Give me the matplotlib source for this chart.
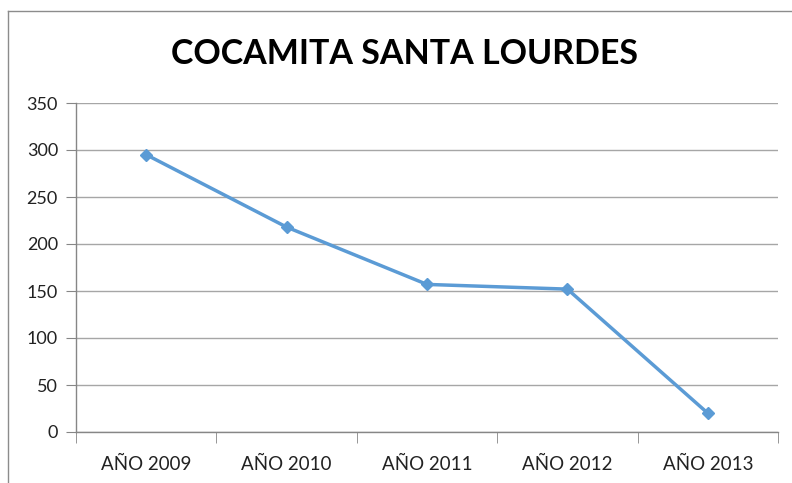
import matplotlib
matplotlib.use("Agg")
import matplotlib.pyplot as plt
from matplotlib.lines import Line2D

plt.rcParams['font.family'] = ['Lato', 'DejaVu Sans']

categories = ["AÑO 2009", "AÑO 2010", "AÑO 2011", "AÑO 2012", "AÑO 2013"]
values = [295, 218, 157, 152, 20]
y_ticks = [0, 50, 100, 150, 200, 250, 300, 350]
title = "COCAMITA SANTA LOURDES"

W, H = 792, 483
fig = plt.figure(figsize=(W / 100, H / 100), dpi=100)
fig.patch.set_facecolor("white")

# chart frame (left and top edges)
frame_color = "#8c8c8c"
fig.add_artist(Line2D([8 / W, 8 / W], [0, 1 - 11 / H], transform=fig.transFigure,
                      color=frame_color, lw=1.0))
fig.add_artist(Line2D([8 / W, 1], [1 - 11 / H, 1 - 11 / H], transform=fig.transFigure,
                      color=frame_color, lw=1.0))

left, right = 76 / W, 778 / W
bottom, top = 1 - 432 / H, 1 - 103 / H
ax = fig.add_axes([left, bottom, right - left, top - bottom])

x = list(range(len(categories)))
ax.plot(x, values, color="#5B9BD5", lw=2.5, marker="D", markersize=6.5,
        markeredgecolor="#5B9BD5", zorder=3)

ax.set_xlim(-0.5, len(categories) - 0.5)
ax.set_ylim(0, 350)
ax.set_yticks(y_ticks)
ax.set_xticks(x)
ax.set_xticklabels(categories)
ax.set_xticks([i - 0.5 for i in range(len(categories) + 1)], minor=True)

grid_color = "#a6a6a6"
ax.yaxis.grid(True, color=grid_color, lw=1.0)
ax.set_axisbelow(True)
for s in ("top", "right"):
    ax.spines[s].set_visible(False)
for s in ("left", "bottom"):
    ax.spines[s].set_color("#868686")
    ax.spines[s].set_linewidth(1.0)

ax.tick_params(axis="y", length=7, color="#868686", labelsize=13, pad=6,
               labelcolor="#222222")
ax.tick_params(axis="x", which="major", length=0, labelsize=13.5, pad=17,
               labelcolor="#222222")
ax.tick_params(axis="x", which="minor", length=8, color="#868686")

fig.text(404.5 / W, 1 - 54 / H, title, ha="center", va="center",
         fontsize=24.5, fontweight="bold", color="black")

fig.savefig("out.png", dpi=100)
